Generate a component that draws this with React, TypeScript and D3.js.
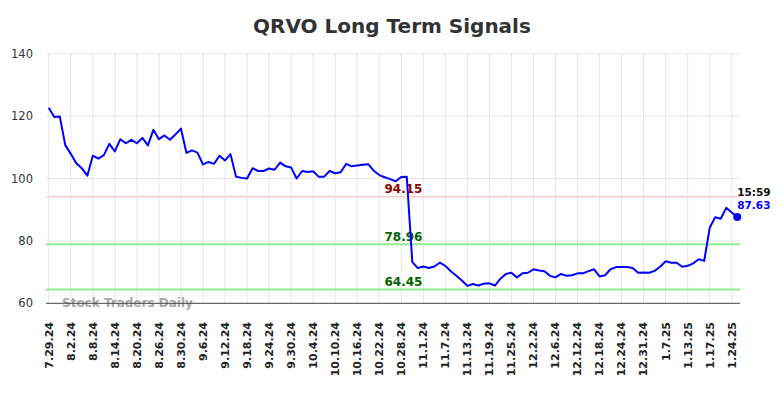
import React from "react";
import * as d3 from "d3";

const tickLabels = ["7.29.24","8.2.24","8.8.24","8.14.24","8.20.24","8.26.24","8.30.24","9.6.24","9.12.24","9.18.24","9.24.24","9.30.24","10.4.24","10.10.24","10.16.24","10.22.24","10.28.24","11.1.24","11.7.24","11.13.24","11.19.24","11.25.24","12.2.24","12.6.24","12.12.24","12.18.24","12.24.24","12.31.24","1.7.25","1.13.25","1.17.25","1.24.25"];

const prices = [
  122.7,119.7,119.9,110.7,107.9,104.9,103.3,100.9,107.3,106.4,
  107.5,111.1,108.7,112.6,111.3,112.4,111.3,113.0,110.6,115.6,
  112.6,113.8,112.4,114.1,116.0,108.2,109.0,108.3,104.5,105.3,
  104.7,107.3,105.8,107.8,100.6,100.2,100.0,103.3,102.4,102.4,
  103.2,102.8,105.1,103.9,103.5,100.0,102.4,102.1,102.3,100.6,
  100.6,102.4,101.7,102.0,104.7,103.9,104.2,104.4,104.6,102.5,
  101.1,100.4,99.8,99.1,100.5,100.6,73.3,71.3,71.8,71.3,
  71.8,73.0,72.0,70.3,68.8,67.3,65.6,66.2,65.7,66.3,
  66.4,65.7,67.9,69.4,69.8,68.3,69.6,69.8,70.9,70.5,
  70.3,68.8,68.3,69.4,68.8,69.0,69.6,69.6,70.3,70.9,
  68.6,69.0,70.9,71.6,71.6,71.6,71.3,69.8,69.9,69.8,
  70.4,71.7,73.5,73.0,73.0,71.7,72.0,72.8,74.1,73.6,
  84.2,87.6,87.1,90.6,89.1,87.63
];

const levels = [
  { value: 94.15, line: "#ffcccc", text: "#8b0000", width: 1.5 },
  { value: 78.96, line: "#90ee90", text: "#006400", width: 2 },
  { value: 64.45, line: "#90ee90", text: "#006400", width: 2 },
];

const yTicks = [60, 80, 100, 120, 140];
const lastTime = "15:59";
const title = "QRVO Long Term Signals";
const watermark = "Stock Traders Daily";

export default function App() {
  const W = 784, H = 398;
  const left = 46, right = 740, top = 53.7, bottom = 303.3;
  const idx = prices.map((_, i) => i);
  const x = d3.scalePoint<number>().domain(idx).range([left, right]).padding(0.5);
  const y = d3.scaleLinear().domain([60, 140]).range([bottom, top]);
  const line = d3.line<number>().x((_, i) => x(i)!).y((d) => y(d));
  const font = "'DejaVu Sans', sans-serif";
  const lastI = prices.length - 1;
  const lastV = prices[lastI];

  return (
    <svg width={W} height={H} style={{ position: "absolute", left: 0, top: 0, background: "#fff" }} fontFamily={font}>
      <text x={W / 2} y={33} textAnchor="middle" fontSize={20} fontWeight="bold" fill="#333">{title}</text>
      {yTicks.filter((t) => t !== 60).map((t) => (
        <line key={"h" + t} x1={left} x2={right} y1={y(t)} y2={y(t)} stroke="#e6e6e6" strokeWidth={1} />
      ))}
      {tickLabels.map((lab, k) => (
        <line key={"v" + k} x1={x(k * 4)!} x2={x(k * 4)!} y1={top} y2={bottom} stroke="#e6e6e6" strokeWidth={1} />
      ))}
      {yTicks.map((t) => (
        <text key={"yl" + t} x={33} y={y(t)} dy="0.35em" textAnchor="end" fontSize={11.5} fill="#333">{t}</text>
      ))}
      {levels.map((l) => (
        <line key={"l" + l.value} x1={left} x2={right} y1={y(l.value)} y2={y(l.value)} stroke={l.line} strokeWidth={l.width} />
      ))}
      <text x={62} y={307} fontSize={12} fontWeight="bold" fill="#999" opacity={0.85}>{watermark}</text>
      <line x1={left} x2={right} y1={bottom} y2={bottom} stroke="#444" strokeWidth={1} />
      {levels.map((l) => (
        <text key={"lt" + l.value} x={403.5} y={y(l.value) - 3.5} textAnchor="middle" fontSize={12} fontWeight="bold" fill={l.text}>{l.value.toFixed(2)}</text>
      ))}
      <path d={line(prices) || ""} fill="none" stroke="#0000ff" strokeWidth={2} strokeLinejoin="round" />
      <circle cx={x(lastI)!} cy={y(lastV)} r={4} fill="#0000ff" />
      <text x={x(lastI)!} y={y(lastV) - 21.5} fontSize={10.5} fontWeight="bold" fill="#111">{lastTime}</text>
      <text x={x(lastI)!} y={y(lastV) - 8.5} fontSize={10.5} fontWeight="bold" fill="#0000ff">{lastV.toFixed(2)}</text>
      {tickLabels.map((lab, k) => (
        <text key={"xl" + k} transform={`translate(${x(k * 4)},322) rotate(-90)`} dy="0.35em" textAnchor="end" fontSize={11} fontWeight="bold" fill="#222">{lab}</text>
      ))}
    </svg>
  );
}
